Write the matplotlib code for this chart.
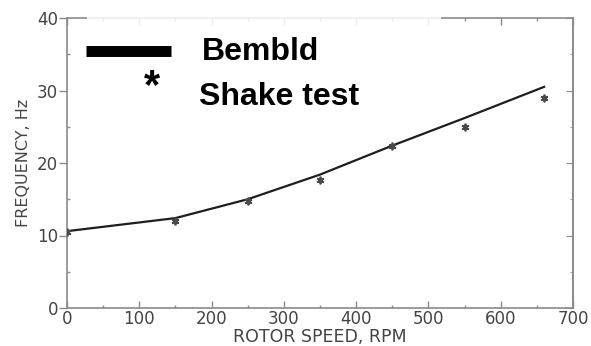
import matplotlib
matplotlib.use("Agg")
import matplotlib.pyplot as plt
from matplotlib.patches import Rectangle
from matplotlib.ticker import MultipleLocator

# Predicted blade frequency vs rotor speed (Bembld) and measured shake-test points
rotor_speed_rpm = [0, 150, 250, 350, 450, 550, 660]
bembld_freq_hz = [10.6, 12.4, 15.0, 18.4, 22.4, 26.2, 30.5]
shake_speed_rpm = [0, 150, 250, 350, 450, 550, 660]
shake_freq_hz = [10.5, 12.0, 14.7, 17.7, 22.3, 25.0, 28.9]

x_ticks = [0, 100, 200, 300, 400, 500, 600, 700]
y_ticks = [0, 10, 20, 30, 40]
series_labels = ["Bembld", "Shake test"]
x_label = "ROTOR SPEED, RPM"
y_label = "FREQUENCY, Hz"

axis_grey = "#8a8a8a"
text_grey = "#444444"

fig = plt.figure(figsize=(5.91, 3.46), dpi=100)
ax = fig.add_axes([67 / 591, 38 / 346, 506 / 591, 290 / 346])

ax.plot(rotor_speed_rpm, bembld_freq_hz, color="#1e1e1e", lw=1.6, zorder=3)
ax.plot(shake_speed_rpm, shake_freq_hz, ls="none", marker=(6, 2, 0),
        ms=5.5, mew=1.3, color="#4a4a4a", zorder=4)

ax.set_xlim(0, 700)
ax.set_ylim(0, 40)
ax.set_xticks(x_ticks)
ax.set_yticks(y_ticks)
ax.xaxis.set_minor_locator(MultipleLocator(50))
ax.yaxis.set_minor_locator(MultipleLocator(5))

for s in ax.spines.values():
    s.set_color(axis_grey)
    s.set_linewidth(1.2)

ax.tick_params(axis="both", which="both", colors=axis_grey, labelcolor=text_grey,
               labelsize=12, width=1.0)
ax.tick_params(axis="x", which="major", direction="in", length=5, pad=1.5, top=True)
ax.tick_params(axis="x", which="minor", direction="in", length=2.5, top=True)
ax.tick_params(axis="y", which="major", direction="out", length=6, pad=0.5, right=False)
ax.tick_params(axis="y", which="minor", direction="in", length=2.5, right=False)

# right-hand ticks point inward
sec = ax.secondary_yaxis("right")
sec.set_yticks(y_ticks)
sec.yaxis.set_minor_locator(MultipleLocator(5))
sec.spines["right"].set_color(axis_grey)
sec.spines["right"].set_linewidth(1.2)
sec.tick_params(axis="y", which="major", direction="in", length=5, colors=axis_grey,
                labelright=False)
sec.tick_params(axis="y", which="minor", direction="in", length=2.5, colors=axis_grey,
                labelright=False)

ax.set_xlabel(x_label, fontsize=12.5, color=text_grey, va="bottom")
ax.xaxis.set_label_coords(0.5, -0.1300)
ax.set_ylabel(y_label, fontsize=11.5, color=text_grey, labelpad=4)

# legend block
ax.add_patch(Rectangle((0.0395, 0.676), 0.70, 0.334, transform=ax.transAxes,
                       facecolor="white", edgecolor="none", alpha=0.85,
                       clip_on=False, zorder=5))
ax.plot([0.0375, 0.2055], [0.8845, 0.8845], transform=ax.transAxes, color="black",
        lw=7.9, solid_capstyle="butt", clip_on=False, zorder=6)
ax.text(0.168, 0.724, "*", transform=ax.transAxes, fontsize=30, fontweight="bold",
        family="Liberation Sans", ha="center", va="baseline", zorder=6)
ax.text(0.267, 0.855, series_labels[0], transform=ax.transAxes, fontsize=23,
        fontweight="bold", family="Liberation Sans", ha="left", va="baseline", zorder=6)
ax.text(0.260, 0.700, series_labels[1], transform=ax.transAxes, fontsize=23,
        fontweight="bold", family="Liberation Sans", ha="left", va="baseline", zorder=6)

fig.savefig("out.png", dpi=100)
